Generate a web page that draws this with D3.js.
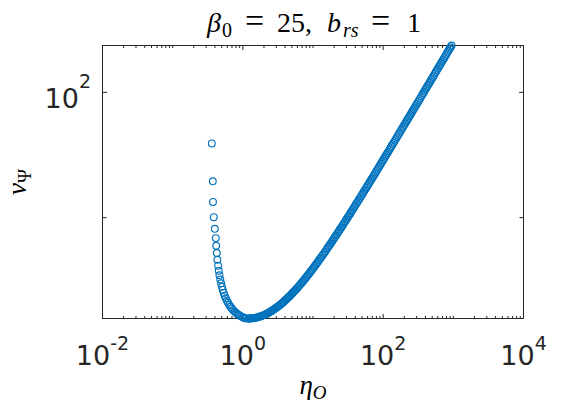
<!DOCTYPE html>
<html><head><meta charset="utf-8">
<script src="https://cdn.jsdelivr.net/npm/d3@7"></script>
<style>body{margin:0;background:#fff} svg{display:block} text{white-space:pre}</style>
</head><body>
<svg id="chart" width="580" height="410"></svg>
<script>
// eta_O values (x) and v_Psi values (y)
const etaO = [
 0.3612,0.3732,0.3757,0.3857,0.3986,0.4118,0.4173,0.4256,0.4340,0.4441,0.4537,0.4643,0.4766,0.4901,0.5031,0.5182,0.5337,
 0.5515,0.5718,0.5928,0.6146,0.6414,0.6672,0.6962,0.7266,0.7607,0.7965,0.8367,0.8789,0.9202,0.9698,1.0154,1.0562,1.1095,
 1.2023,1.2445,1.2882,1.3335,1.3804,1.4289,1.4791,1.5311,1.5849,1.6406,1.6982,1.7579,1.8197,1.8836,1.9498,2.0184,2.0893,2.1627,2.2387,2.3174,
 2.3989,2.4831,2.5703,2.6607,2.7543,2.8510,2.9512,3.0549,3.1623,3.2734,3.3884,3.5075,3.6308,3.7583,3.8904,4.0272,4.1687,4.3152,4.4668,4.6238,
 4.7864,4.9545,5.1286,5.3088,5.4954,5.6885,5.8884,6.0954,6.3096,6.5313,6.7608,6.9984,7.2444,7.4989,7.7625,8.0353,8.3176,8.6099,8.9125,9.2257,
 9.5499,9.8855,10.233,10.593,10.965,11.350,11.749,12.162,12.589,13.032,13.490,13.964,14.454,14.962,15.488,16.032,16.596,17.179,17.783,18.408,
 19.055,19.724,20.417,21.135,21.878,22.646,23.442,24.266,25.119,26.002,26.915,27.861,28.840,29.854,30.903,31.989,33.113,34.277,35.481,36.728,
 38.019,39.355,40.738,42.170,43.652,45.186,46.774,48.417,50.119,51.880,53.703,55.590,57.544,59.566,61.660,63.826,66.069,68.391,70.795,73.282,
 75.858,78.524,81.283,84.140,87.096,90.157,93.325,96.605,100.00,103.51,107.15,110.92,114.82,118.85,123.03,127.35,131.83,136.46,141.25,146.22,
 151.36,156.68,162.18,167.88,173.78,179.89,186.21,192.75,199.53,206.54,213.80,221.31,229.09,237.14,245.47,254.10,263.03,272.27,281.84,291.74,
 301.99,312.61,323.59,334.97,346.74,358.92,371.54,384.59,398.11,412.10,426.58,441.57,457.09,473.15,489.78,506.99,524.81,543.25,562.34,582.10,
 602.56,623.73,645.65,668.34,691.83,716.14,741.31,767.36,794.33,822.24,851.14,881.05,912.01,944.06
];
const vPsi = [
 75.38,61.13,54.53,50.12,46.99,44.64,42.79,41.10,39.61,38.32,37.28,36.34,35.51,34.78,34.11,33.51,32.96,
 32.46,32.00,31.58,31.20,30.84,30.52,30.23,29.97,29.74,29.52,29.33,29.17,29.02,28.89,28.78,28.69,28.62,
 28.61,28.61,28.62,28.64,28.66,28.68,28.71,28.74,28.78,28.83,28.87,28.93,28.98,29.05,29.11,29.19,29.26,29.34,29.43,29.52,
 29.63,29.73,29.83,29.95,30.06,30.18,30.31,30.44,30.57,30.71,30.85,31.00,31.15,31.31,31.47,31.64,31.81,31.99,32.17,32.36,
 32.56,32.75,32.95,33.16,33.37,33.58,33.80,34.02,34.25,34.48,34.72,34.96,35.21,35.46,35.72,35.98,36.24,36.51,36.79,37.07,
 37.36,37.65,37.94,38.24,38.54,38.85,39.16,39.48,39.80,40.13,40.46,40.80,41.14,41.48,41.83,42.19,42.55,42.91,43.28,43.66,
 44.05,44.44,44.83,45.22,45.62,46.03,46.44,46.86,47.27,47.70,48.13,48.57,49.01,49.46,49.91,50.37,50.83,51.30,51.77,52.25,
 52.75,53.24,53.74,54.24,54.74,55.26,55.78,56.30,56.83,57.37,57.91,58.46,59.01,59.57,60.14,60.71,61.29,61.88,62.47,63.07,
 63.69,64.30,64.92,65.54,66.17,66.81,67.45,68.10,68.76,69.43,70.10,70.77,71.46,72.15,72.85,73.56,74.28,75.00,75.73,76.46,
 77.21,77.96,78.72,79.49,80.26,81.05,81.84,82.64,83.45,84.26,85.09,85.92,86.76,87.61,88.47,89.33,90.21,91.09,91.99,92.89,
 93.80,94.72,95.65,96.59,97.54,98.50,99.47,100.44,101.43,102.43,103.44,104.46,105.48,106.52,107.57,108.63,109.70,110.78,111.87,112.97,
 114.09,115.21,116.34,117.49,118.65,119.82,121.00,122.19,123.40,124.62,125.85,127.09,128.34,129.61
];
const xDomain = [1e-2, 1e4];
const xTickValues = [1e-2, 1e0, 1e2, 1e4];
const xTickExponents = ["-2", "0", "2", "4"];
const yTickValues = [100];
const yTickExponents = ["2"];
const yMinorTickValues = [50];

const svg = d3.select("#chart");
const L = 102.5, R = 523.5, T = 45.5, B = 318.5;
const axisColor = "#262626";
const blue = "#0072BD";

const x = d3.scaleLog().domain(xDomain).range([L, R]);
const y = d3.scaleLog().domain(d3.extent(vPsi)).range([B, T]);

// box
svg.append("rect").attr("x", L).attr("y", T).attr("width", R - L).attr("height", B - T)
  .attr("fill", "none").attr("stroke", axisColor).attr("stroke-width", 1);

const minorX = x.ticks().filter(v => !xTickValues.some(t => Math.abs(Math.log10(v) - Math.log10(t)) < 1e-9));

function tickAxis(axisFn, scale, values, size, transform) {
  const g = svg.append("g").attr("transform", transform)
    .call(axisFn(scale).tickValues(values).tickSizeInner(size).tickSizeOuter(0).tickFormat("").offset(0));
  g.select(".domain").remove();
  g.selectAll("line").attr("stroke", axisColor).attr("stroke-width", 1);
  return g;
}
tickAxis(d3.axisBottom, x, xTickValues, -4.5, `translate(0,${B})`);
tickAxis(d3.axisBottom, x, minorX, -2.5, `translate(0,${B})`);
tickAxis(d3.axisTop, x, xTickValues, -4.5, `translate(0,${T})`);
tickAxis(d3.axisTop, x, minorX, -2.5, `translate(0,${T})`);
tickAxis(d3.axisLeft, y, yTickValues, -4.5, `translate(${L},0)`);
tickAxis(d3.axisLeft, y, yMinorTickValues, -4, `translate(${L},0)`);
tickAxis(d3.axisRight, y, yTickValues, -4.5, `translate(${R},0)`);
tickAxis(d3.axisRight, y, yMinorTickValues, -4, `translate(${R},0)`);

const tickFont = "'DejaVu Sans', sans-serif";
// x tick labels
xTickValues.forEach((v, i) => {
  const t = svg.append("text").attr("x", x(v)).attr("y", 365)
    .attr("text-anchor", "middle").attr("font-family", tickFont).attr("font-size", 27).attr("fill", axisColor);
  t.append("tspan").text("10");
  t.append("tspan").attr("font-size", 19).attr("dy", -15).text(xTickExponents[i]);
});
// y tick labels
yTickValues.forEach((v, i) => {
  const t = svg.append("text").attr("x", 91).attr("y", y(v) + 16)
    .attr("text-anchor", "end").attr("font-family", tickFont).attr("font-size", 27).attr("fill", axisColor);
  t.append("tspan").text("10");
  t.append("tspan").attr("font-size", 19).attr("dy", -20).text(yTickExponents[i]);
});

// data
const pts = etaO.map((e, i) => ({ e, v: vPsi[i] }));
svg.append("g").selectAll("circle").data(pts).join("circle")
  .attr("cx", d => x(d.e)).attr("cy", d => y(d.v)).attr("r", 3.4)
  .attr("fill", "none").attr("stroke", blue).attr("stroke-width", 1.15);

const mathFont = "'Liberation Serif', 'DejaVu Serif', serif";
// title, pieces placed like the LaTeX layout
const titleParts = [
  { s: "β", x: 207, it: true, sub: false },
  { s: "0", x: 222, it: false, sub: true },
  { s: "=", x: 245, it: false, sub: false },
  { s: "25,", x: 277, it: false, sub: false },
  { s: "b", x: 327, it: true, sub: false },
  { s: "rs", x: 343, it: true, sub: true },
  { s: "=", x: 371, it: false, sub: false },
  { s: "1", x: 407, it: false, sub: false }
];
const tg = svg.append("g").attr("font-family", mathFont).attr("fill", "#000");
titleParts.forEach(p => {
  tg.append("text").attr("x", p.x).attr("y", p.sub ? 37 : 32)
    .attr("font-size", p.sub ? 20 : (p.s === "=" ? 34 : 28))
    .attr("font-style", p.it ? "italic" : "normal").text(p.s);
});

// x label
const xl = svg.append("text").attr("x", (L + R) / 2).attr("y", 394).attr("text-anchor", "middle")
  .attr("font-family", mathFont).attr("font-size", 27).attr("fill", "#000");
xl.append("tspan").attr("font-style", "italic").text("η");
xl.append("tspan").attr("font-style", "italic").attr("font-size", 19).attr("dy", 5).text("O");

// y label
const yl = svg.append("text").attr("transform", `translate(26,${(T + B) / 2}) rotate(-90)`)
  .attr("text-anchor", "middle").attr("font-family", mathFont).attr("font-size", 27).attr("fill", "#000");
yl.append("tspan").attr("font-style", "italic").text("v");
yl.append("tspan").attr("font-size", 19).attr("dy", 5).text("Ψ");
</script>
</body></html>
